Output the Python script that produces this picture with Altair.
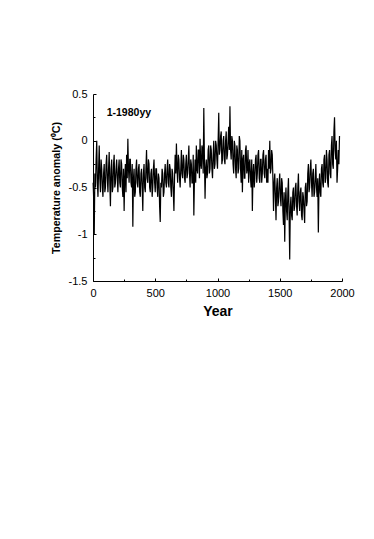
import altair as alt
import pandas as pd

# decadal readings (years 1, 10, 20, ..., 1980)
years_a = [1] + list(range(10, 1981, 10))
values_a = [
    -0.45, -1.0, -0.5, 0.0, -0.6, -0.05, -0.55, -0.3, -0.6, -0.25,
    -0.5, -0.15, -0.55, -0.12, -0.7, -0.2, -0.5, -0.15, -0.45, -0.2,
    -0.55, -0.2, -0.5, -0.25, -0.6, -0.75, -0.25, -0.15, 0.02, -0.45,
    -0.2, -0.5, -0.92, -0.3, -0.55, -0.2, -0.5, -0.25, -0.6, -0.3,
    -0.75, -0.25, -0.55, -0.1, -0.45, -0.25, -0.55, -0.3, -0.5, -0.2,
    -0.55, -0.3, -0.6, -0.4, -0.87, -0.5, -0.35, -0.55, -0.25, -0.5,
    -0.2, -0.5, -0.3, -0.6, -0.35, -0.75, -0.15, -0.03, -0.45, -0.2,
    -0.5, -0.1, -0.4, -0.2, -0.45, -0.15, -0.35, -0.05, -0.5, -0.25,
    -0.45, -0.8, -0.2, -0.05, -0.35, -0.1, 0.02, -0.3, -0.1, 0.35,
    -0.62, -0.2, -0.35, -0.05, -0.3, -0.1, -0.4, 0.0, -0.25, -0.05,
    -0.3, 0.3, -0.1, 0.1, -0.2, 0.05, -0.25, 0.1, -0.15, 0.15,
    0.37, -0.2, 0.0, -0.35, -0.05, -0.4, -0.1, -0.3, 0.0, -0.45,
    -0.55, -0.15, -0.4, -0.05, -0.3, -0.45, -0.2, -0.5, -0.75, -0.25,
    -0.4, -0.15, -0.35, -0.1, -0.45, -0.2, -0.35, -0.1, -0.4, -0.15,
    -0.3, -0.1, 0.0, -0.3, -0.15, -0.75, -0.35, -0.85, -0.4, -0.65,
    -0.35, -0.7, -0.45, -0.9, -1.08, -0.5, -0.85, -0.4, -1.27, -0.6,
    -0.85, -0.5, -0.7, -0.45, -0.8, -0.35, -0.75, -0.5, -0.85, -0.6,
    -0.88, -0.45, -0.65, -0.25, -0.5, -0.2, -0.6, -0.3, -0.55, -0.25,
    -0.6, -0.98, -0.35, -0.6, -0.25, -0.5, -0.15, -0.4, -0.2, -0.5,
    -0.1, -0.4, 0.05, -0.3, 0.25, -0.2, -0.45, -0.1, 0.05,
]

# in-between readings (years 5, 15, ..., 1975)
years_b = list(range(5, 1976, 10))
values_b = [
    -0.6, -0.35, -0.2, -0.45, -0.3, -0.4, -0.2, -0.5, -0.35, -0.55,
    -0.25, -0.4, -0.3, -0.45, -0.3, -0.55, -0.25, -0.5, -0.3, -0.4,
    -0.3, -0.45, -0.2, -0.5, -0.3, -0.4, -0.55, -0.4, -0.3, -0.2,
    -0.45, -0.25, -0.4, -0.6, -0.3, -0.45, -0.3, -0.55, -0.35, -0.5,
    -0.35, -0.5, -0.3, -0.4, -0.2, -0.5, -0.35, -0.6, -0.3, -0.45,
    -0.3, -0.5, -0.35, -0.7, -0.45, -0.3, -0.6, -0.35, -0.45, -0.3,
    -0.45, -0.25, -0.5, -0.3, -0.55, -0.4, -0.35, -0.3, -0.15, -0.4,
    -0.3, -0.35, -0.15, -0.4, -0.25, -0.4, -0.2, -0.35, -0.2, -0.45,
    -0.15, -0.4, -0.45, -0.3, -0.1, -0.4, -0.25, -0.05, -0.35, -0.2,
    -0.3, -0.4, -0.1, -0.35, -0.05, -0.3, -0.15, -0.3, 0.0, -0.2,
    0.0, -0.15, 0.05, -0.25, 0.0, -0.2, 0.0, -0.2, 0.0, -0.1,
    -0.1, 0.05, -0.25, 0.0, -0.3, -0.05, -0.35, 0.05, -0.3, -0.1,
    -0.2, -0.4, -0.1, -0.35, -0.1, -0.25, -0.4, -0.2, -0.35, -0.5,
    -0.2, -0.45, -0.15, -0.4, -0.2, -0.45, -0.15, -0.35, -0.2, -0.45,
    -0.45, -0.3, -0.35, -0.1, -0.4, -0.45, -0.6, -0.5, -0.7, -0.45,
    -0.6, -0.4, -0.75, -0.55, -0.65, -0.75, -0.55, -0.8, -0.7, -0.8,
    -0.55, -0.75, -0.5, -0.7, -0.5, -0.65, -0.55, -0.8, -0.55, -0.75,
    -0.5, -0.7, -0.35, -0.55, -0.3, -0.45, -0.35, -0.6, -0.4, -0.5,
    -0.4, -0.5, -0.55, -0.3, -0.45, -0.2, -0.45, -0.1, -0.45, -0.15,
    -0.35, -0.05, -0.25, 0.1, -0.1, 0.0, -0.3, -0.25,
]

x_major = [0, 500, 1000, 1500, 2000]
x_minor = [250, 750, 1250, 1750]
y_major = [-1.5, -1, -0.5, 0, 0.5]
y_minor = [-1.25, -0.75, -0.25, 0.25]

annot_text = ["1-1980yy"]
annot_x = [110]
annot_y = [0.30]

df = pd.DataFrame({"year": years_a + years_b, "anom": values_a + values_b})
df = df.sort_values("year").reset_index(drop=True)
ann = pd.DataFrame({"x": annot_x, "y": annot_y, "t": annot_text})

xs = alt.Scale(domain=[0, 2000], nice=False)
ys = alt.Scale(domain=[-1.5, 0.5], nice=False)

main = alt.Chart(df).mark_line(color="black", strokeWidth=1.2).encode(
    x=alt.X("year:Q", scale=xs, title="Year",
            axis=alt.Axis(orient="bottom", values=x_major, format="d", ticks=False, tickSize=0,
                          labelFlush=False, labelPadding=6, titlePadding=6, titleFontSize=14,
                          titleFontWeight="bold", grid=False)),
    y=alt.Y("anom:Q", scale=ys, title="Temperature anomaly (\u2070C)",
            axis=alt.Axis(orient="left", values=y_major, ticks=False, tickSize=0,
                          labelFlush=False, labelPadding=6, titlePadding=7, titleFontSize=10.7,
                          titleFontWeight="bold", grid=False,
                          labelExpr="toString(datum.value)")),
)

major_ticks = alt.Chart(df).mark_line(opacity=0).encode(
    x=alt.X("year:Q", scale=xs, title=None,
            axis=alt.Axis(orient="bottom", values=x_major, domain=False, labels=False,
                          tickSize=3, offset=-3, grid=False, tickColor="black")),
    y=alt.Y("anom:Q", scale=ys, title=None,
            axis=alt.Axis(orient="left", values=y_major, domain=False, labels=False,
                          tickSize=3, offset=-3, grid=False, tickColor="black")),
)

minor_ticks = alt.Chart(df).mark_line(opacity=0).encode(
    x=alt.X("year:Q", scale=xs, title=None,
            axis=alt.Axis(orient="bottom", values=x_minor, domain=False, labels=False,
                          tickSize=2, offset=-2, grid=False, tickColor="black")),
    y=alt.Y("anom:Q", scale=ys, title=None,
            axis=alt.Axis(orient="left", values=y_minor, domain=False, labels=False,
                          tickSize=2, offset=-2, grid=False, tickColor="black")),
)

label = alt.Chart(ann).mark_text(
    align="left", baseline="middle", fontSize=10.5, fontWeight="bold",
    font="Liberation Sans", color="black"
).encode(
    x=alt.X("x:Q", scale=xs, axis=None),
    y=alt.Y("y:Q", scale=ys, axis=None),
    text="t:N",
)

chart = alt.layer(main, major_ticks, minor_ticks, label).resolve_axis(
    x="independent", y="independent"
).properties(
    width=249, height=187,
    padding={"left": 85, "top": 86, "right": 20, "bottom": 200},
    autosize="none",
    background="white",
).configure_view(stroke=None).configure_axis(
    labelFont="Liberation Sans", titleFont="Liberation Sans",
    labelFontSize=11, labelColor="black", titleColor="black",
    domainColor="black", domainWidth=1,
)

chart.save("out.html", embed_options={"renderer": "svg", "actions": False})
